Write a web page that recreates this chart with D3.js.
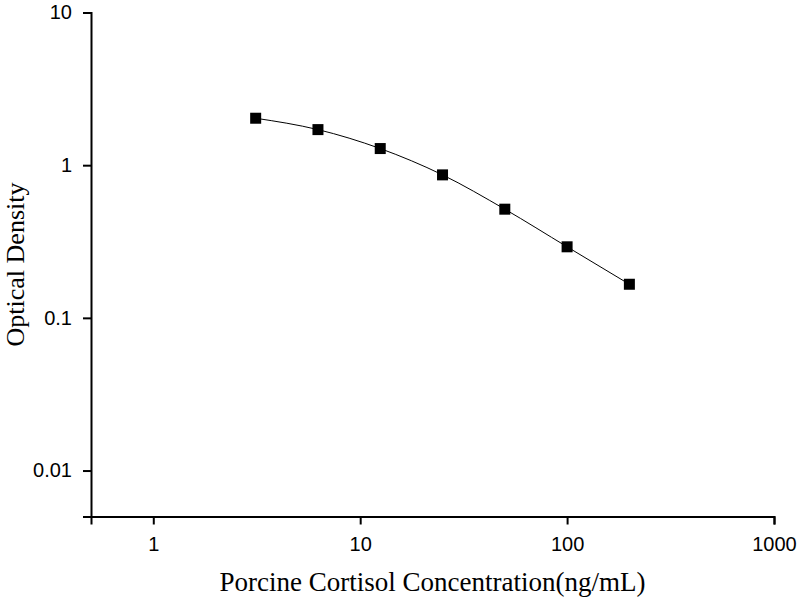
<!DOCTYPE html>
<html>
<head>
<meta charset="utf-8">
<script src="https://cdn.jsdelivr.net/npm/d3@7"></script>
<style>
  body { margin: 0; background: #fff; }
  svg { display: block; }
</style>
</head>
<body>
<svg id="chart"></svg>
<script>
// standard curve readings
var concentration = [3.125, 6.25, 12.5, 25, 50, 100, 200];
var opticalDensity = [2.03, 1.71, 1.285, 0.864, 0.515, 0.292, 0.166];
var xTicks = [1, 10, 100, 1000];
var yTicks = [0.01, 0.1, 1, 10];

var width = 800,
    height = 600;
var margin = {top: 12.5, right: 26, bottom: 83.5, left: 91};

var svg = d3.select("#chart").attr("width", width).attr("height", height);

var x = d3.scaleLog().domain([0.5, 1000]).range([margin.left, width - margin.right]);
var y = d3.scaleLog().domain([0.005, 10]).range([height - margin.bottom, margin.top]);

// minor ticks, every 2..9 step of a decade
function minorTicks(domain) {
	var out = [];
	for (var e = -3; e <= 3; e++) {
		for (var m = 2; m < 10; m++) {
			var v = m * Math.pow(10, e);
			if (v >= domain[0] - 1e-12 && v <= domain[1] + 1e-12) out.push(v);
		}
	}
	return out;
}

var fmt = function(d) { return String(+d.toPrecision(3)); };

// x axis
var gx = svg.append("g").attr("transform", "translate(0," + (height - margin.bottom) + ")");
gx.call(d3.axisBottom(x).tickValues(minorTicks(x.domain())).tickSize(5).tickFormat(""));
gx.call(d3.axisBottom(x).tickValues(xTicks).tickSize(8).tickPadding(12).tickFormat(fmt));

// y axis
var gy = svg.append("g").attr("transform", "translate(" + margin.left + ",0)");
gy.call(d3.axisLeft(y).tickValues(minorTicks(y.domain())).tickSize(5).tickFormat(""));
gy.call(d3.axisLeft(y).tickValues(yTicks).tickSize(8).tickPadding(11).tickFormat(fmt));

svg.selectAll(".domain").attr("stroke", "#000").attr("stroke-width", 2);
svg.selectAll(".tick line").attr("stroke", "#000").attr("stroke-width", 2);
svg.selectAll(".tick text")
	.attr("fill", "#000")
	.style("font-family", "'Liberation Sans', Arial, sans-serif")
	.style("font-size", "20px");

// fitted curve
var points = concentration.map(function(c, i) { return [c, opticalDensity[i]]; });
var line = d3.line()
	.x(function(d) { return x(d[0]); })
	.y(function(d) { return y(d[1]); })
	.curve(d3.curveMonotoneX);

svg.append("path")
	.datum(points)
	.attr("d", line)
	.attr("fill", "none")
	.attr("stroke", "#000")
	.attr("stroke-width", 1);

// markers
var s = 11;
svg.selectAll("rect.pt")
	.data(points)
	.enter().append("rect")
	.attr("class", "pt")
	.attr("x", function(d) { return x(d[0]) - s / 2; })
	.attr("y", function(d) { return y(d[1]) - s / 2; })
	.attr("width", s)
	.attr("height", s)
	.attr("fill", "#000");

// axis titles
svg.append("text")
	.text("Porcine Cortisol Concentration(ng/mL)")
	.attr("x", (margin.left + width - margin.right) / 2)
	.attr("y", 591)
	.attr("text-anchor", "middle")
	.style("font-family", "'Liberation Serif', 'Times New Roman', serif")
	.style("font-size", "27px");

svg.append("text")
	.text("Optical Density")
	.attr("transform", "translate(23.5," + (margin.top + height - margin.bottom) / 2 + ") rotate(-90)")
	.attr("text-anchor", "middle")
	.style("font-family", "'Liberation Serif', 'Times New Roman', serif")
	.style("font-size", "26px");
</script>
</body>
</html>
